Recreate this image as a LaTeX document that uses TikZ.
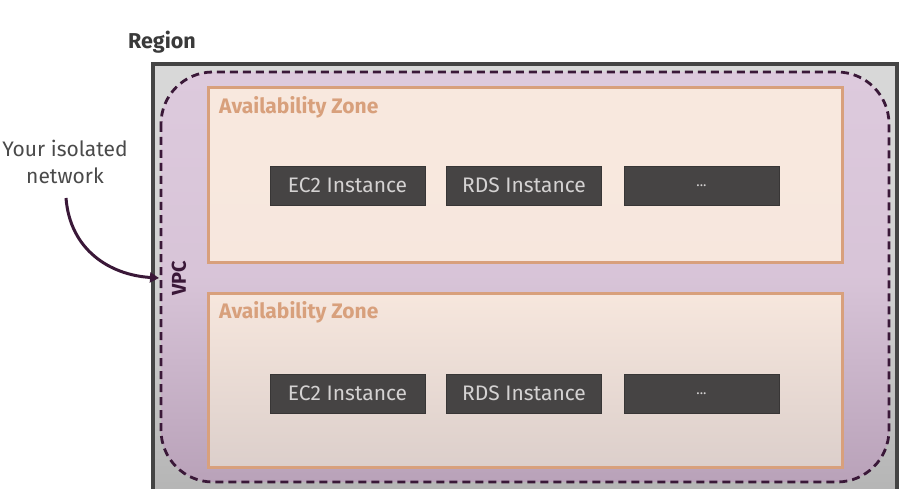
\documentclass[tikz,border=0pt]{standalone}
\usepackage{fontspec}
\setmainfont{Fira Sans}
\usetikzlibrary{arrows.meta}
\definecolor{regborder}{HTML}{444444}
\definecolor{regfillA}{HTML}{D8D8D8}
\definecolor{regfillB}{HTML}{B4B4B4}
\definecolor{vpcfillA}{HTML}{DDCADD}
\definecolor{vpcfillB}{HTML}{B9A2B9}
\definecolor{vpcline}{HTML}{3A1838}
\definecolor{azline}{HTML}{D8A07C}
\definecolor{azfillA}{HTML}{F8E8DE}
\definecolor{azfillB}{HTML}{DCCFCB}
\definecolor{instfill}{HTML}{464444}
\definecolor{insttext}{HTML}{D4D2D2}
\definecolor{labelgray}{HTML}{3A3A3A}
\definecolor{notegray}{HTML}{4A4A4A}
\tikzset{
  instbox/.style={draw=instfill!80!black, line width=0.8pt, fill=instfill, minimum width=155pt, minimum height=39pt, inner sep=0pt, text=insttext, font=\fontsize{21}{24}\selectfont},
  azlabel/.style={anchor=north west, inner sep=0pt, text=azline, font=\bfseries\fontsize{21}{24}\selectfont},
}
\begin{document}
\begin{tikzpicture}[x=1pt,y=-1pt]
\useasboundingbox (0,0) rectangle (899,489);
\fill[white] (0,0) rectangle (899,489);
\clip (0,0) rectangle (899,489);
% Region
\shade[top color=regfillA, bottom color=regfillB, middle color=regfillA!80!regfillB] (153,64) rectangle (897,500);
\draw[regborder, line width=4pt] (153,500) -- (153,64) -- (897,64) -- (897,500);
\node[anchor=south, inner sep=0pt, text=labelgray, font=\bfseries\fontsize{21.5}{24}\selectfont] (region) at (162,53) {Region};
% VPC
\shade[top color=vpcfillA, bottom color=vpcfillB, middle color=vpcfillA!85!vpcfillB, rounded corners=52pt] (161,72) rectangle (889,482);
\draw[vpcline, line width=2.8pt, dash pattern=on 8pt off 5pt, rounded corners=52pt] (161,72) rectangle (889,482);
\node[rotate=90, inner sep=0pt, text=vpcline, font=\bfseries\fontsize{20}{24}\selectfont] (vpc) at (179,278) {VPC};
% AZ 1
\shade[top color=azfillA, bottom color=azfillA!97!azfillB] (208,88) rectangle (842,262);
\draw[azline, line width=3pt] (208,88) rectangle (842,262);
\node[azlabel] (az1) at (219,96) {Availability Zone};
% AZ 2
\shade[top color=azfillA!95!azfillB, bottom color=azfillB] (208,293) rectangle (842,467);
\draw[azline, line width=3pt] (208,293) rectangle (842,467);
\node[azlabel] (az2) at (219,301) {Availability Zone};
% instances
\node[instbox] (ec2a) at (347.5,185.5) {EC2 Instance};
\node[instbox] (rdsa) at (524,185.5) {RDS Instance};
\node[instbox, font=\fontsize{14}{16}\selectfont] (dota) at (701.5,185.5) {...};
\node[instbox] (ec2b) at (347.5,393.5) {EC2 Instance};
\node[instbox] (rdsb) at (524,393.5) {RDS Instance};
\node[instbox, font=\fontsize{14}{16}\selectfont] (dotb) at (701.5,393.5) {...};
% note
\node[align=center, text=notegray, font=\fontsize{21}{27}\selectfont, inner sep=0pt] (note) at (65,162) {Your isolated\\network};
\coordinate (tip) at (159,278);
\draw[vpcline, line width=3pt, -{Triangle[length=9pt,width=10pt]}] (66,198) .. controls (70,250) and (110,275) .. (tip);
\end{tikzpicture}
\end{document}
